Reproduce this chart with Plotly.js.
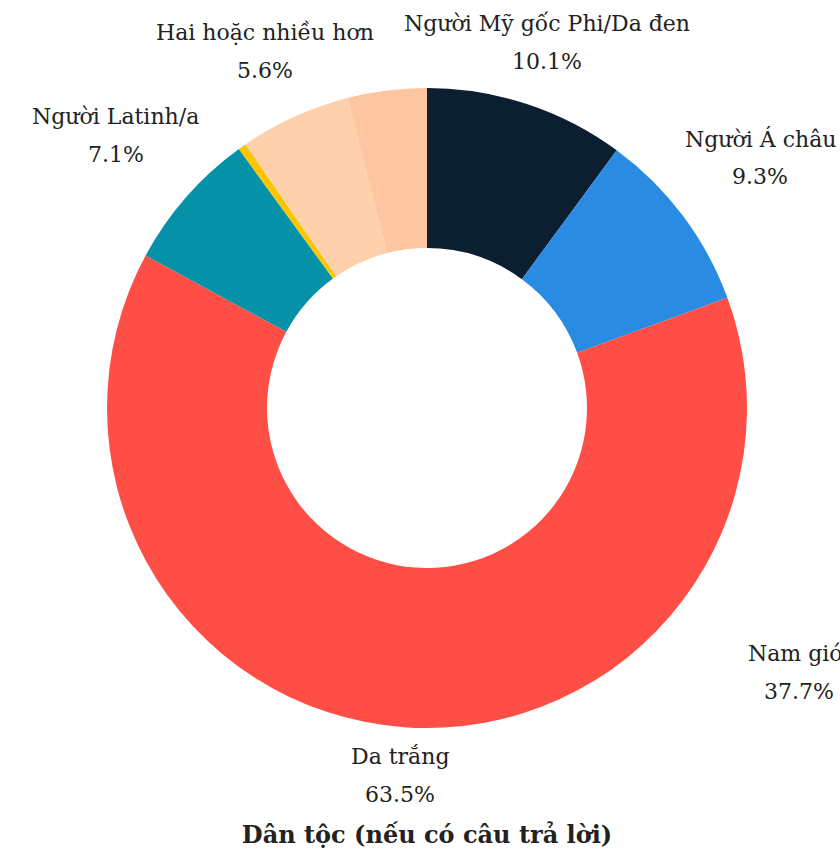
<!DOCTYPE html>
<html>
<head>
<meta charset="utf-8">
<script src="https://cdn.plot.ly/plotly-3.0.1.min.js"></script>
<style>html,body{margin:0;padding:0;background:#fff;}#chart{width:840px;height:853px;}</style>
</head>
<body>
<div id="chart"></div>
<script>
// Data
const categories = ["Người Mỹ gốc Phi/Da đen", "Người Á châu", "Da trắng", "Người Latinh/a", "Người bản địa", "Hai hoặc nhiều hơn", "Khác"];
const values = [10.1, 9.3, 63.5, 7.1, 0.4, 5.6, 4.0];
const showLabel = [true, true, true, true, false, true, false];
const colors = ["#0b1f30", "#2a8be3", "#ff4e45", "#0592a9", "#fdc500", "#fed1ac", "#fdc5a0"];
const chartTitle = "Dân tộc (nếu có câu trả lời)";
const sideLabel = "Nam giới";
const sideValue = "37.7%";

const W = 840, H = 853;
const cx = 427, cy = 408, R = 320;
const FONT = "DejaVu Serif";
const FS = 22;
const LINE = 38;

const trace = {
  type: "pie",
  labels: categories,
  values: values,
  hole: 0.5,
  sort: false,
  direction: "clockwise",
  rotation: 0,
  marker: {colors: colors, line: {width: 0}},
  textinfo: "none",
  hoverinfo: "label+percent",
  showlegend: false,
  automargin: false,
  domain: {
    x: [(cx - R) / W, (cx + R) / W],
    y: [1 - (cy + R) / H, 1 - (cy - R) / H]
  }
};

// Outside labels placed radially at each slice's middle angle
const total = values.reduce((a, b) => a + b, 0);
const annotations = [];
function addLabel(px, py, name, pct) {
  annotations.push({text: name, x: px / W, y: 1 - (py - LINE / 2) / H, xref: "paper", yref: "paper",
    xanchor: "center", yanchor: "middle", showarrow: false, font: {family: FONT, size: FS, color: "#222"}});
  annotations.push({text: pct, x: px / W, y: 1 - (py + LINE / 2) / H, xref: "paper", yref: "paper",
    xanchor: "center", yanchor: "middle", showarrow: false, font: {family: FONT, size: FS, color: "#222"}});
}
let cum = 0;
values.forEach((v, i) => {
  const mid = (cum + v / 2) / total * 2 * Math.PI;
  cum += v;
  if (!showLabel[i]) return;
  const s = Math.sin(mid), c = Math.cos(mid);
  const dist = R + 44 + 66 * Math.abs(s);
  addLabel(cx + dist * s, cy - dist * c, categories[i], (v / total * 100).toFixed(1) + "%");
});
addLabel(799, 672, sideLabel, sideValue);

const layout = {
  width: W, height: H,
  margin: {l: 0, r: 0, t: 0, b: 0},
  paper_bgcolor: "#fff",
  font: {family: FONT, color: "#222"},
  showlegend: false,
  title: {
    text: "<b>" + chartTitle + "</b>",
    font: {family: FONT, size: 24, color: "#222"},
    x: cx / W, xanchor: "center",
    y: 1 - 835 / H, yanchor: "middle",
    xref: "paper", yref: "container"
  },
  annotations: annotations
};

Plotly.newPlot("chart", [trace], layout, {displayModeBar: false});
</script>
</body>
</html>
